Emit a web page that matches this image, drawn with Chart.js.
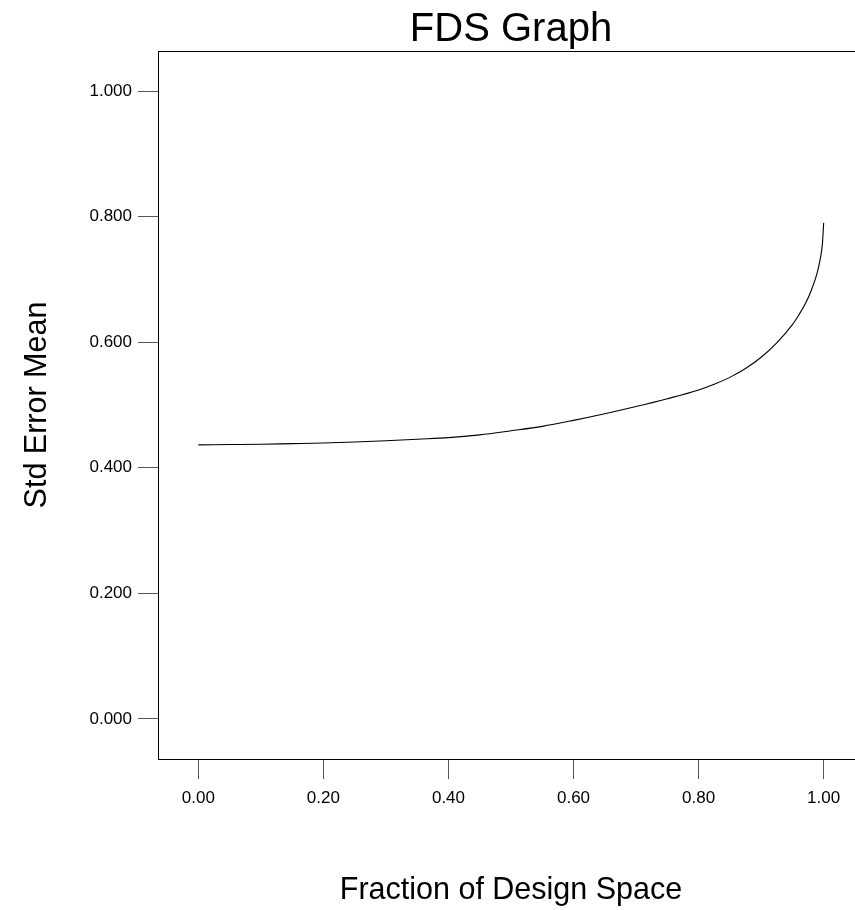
<!DOCTYPE html>
<html>
<head>
<meta charset="utf-8">
<script src="https://cdn.jsdelivr.net/npm/chart.js@4.4.1/dist/chart.umd.min.js"></script>
<style>
  html, body { margin: 0; padding: 0; background: #fff; overflow: hidden; }
  #wrap { position: relative; width: 865px; height: 910px; }
</style>
</head>
<body>
<div id="wrap"><canvas id="c"></canvas></div>
<script>
const chartTitle = 'FDS Graph';
const xAxisTitle = 'Fraction of Design Space';
const yAxisTitle = 'Std Error Mean';

const fractionValues = [0, 0.05, 0.10, 0.15, 0.20, 0.25, 0.30, 0.35, 0.40, 0.45, 0.50, 0.55, 0.60, 0.65, 0.70, 0.75, 0.80, 0.825, 0.85, 0.875, 0.90, 0.925, 0.95, 0.96, 0.97, 0.98, 0.99, 0.995, 0.998, 1.00];
const stdErrorMean   = [0.4365, 0.437, 0.4375, 0.4385, 0.4395, 0.441, 0.443, 0.4455, 0.448, 0.4525, 0.459, 0.466, 0.4755, 0.486, 0.4975, 0.510, 0.524, 0.533, 0.544, 0.558, 0.576, 0.599, 0.628, 0.643, 0.660, 0.682, 0.712, 0.735, 0.757, 0.790];

const xTicks = [0, 0.2, 0.4, 0.6, 0.8, 1.0];
const yTicks = [0, 0.2, 0.4, 0.6, 0.8, 1.0];

const FONT = '"Liberation Sans", Arial, Helvetica, sans-serif';

const points = fractionValues.map((x, i) => ({ x: x, y: stdErrorMean[i] }));

const framePlugin = {
  id: 'frame',
  afterDraw(chart) {
    const ctx = chart.ctx;
    const a = chart.chartArea;
    ctx.save();
    ctx.strokeStyle = '#000';
    ctx.lineWidth = 1;
    ctx.strokeRect(Math.round(a.left) + 0.5, Math.round(a.top) + 0.5, Math.round(a.right - a.left), Math.round(a.bottom - a.top));
    const cx = (a.left + a.right) / 2;
    const cy = (a.top + a.bottom) / 2;
    ctx.fillStyle = '#000';
    ctx.textAlign = 'center';
    ctx.textBaseline = 'alphabetic';
    ctx.font = '40px ' + FONT;
    ctx.fillText(chartTitle, cx, 41);
    ctx.font = '30.5px ' + FONT;
    ctx.fillText(xAxisTitle, cx, 899);
    ctx.save();
    ctx.translate(46, cy);
    ctx.rotate(-Math.PI / 2);
    ctx.fillText(yAxisTitle, 0, 0);
    ctx.restore();
    ctx.restore();
  }
};

new Chart(document.getElementById('c'), {
  type: 'line',
  data: {
    datasets: [{
      data: points,
      borderColor: '#000',
      borderWidth: 1.1,
      pointRadius: 0,
      fill: false,
      cubicInterpolationMode: 'monotone'
    }]
  },
  options: {
    responsive: true,
    maintainAspectRatio: false,
    animation: false,
    devicePixelRatio: 1,
    layout: { padding: { left: 0, top: 51, right: 1, bottom: 0 } },
    plugins: { legend: { display: false }, title: { display: false }, tooltip: { enabled: false } },
    scales: {
      x: {
        type: 'linear',
        min: -0.0645,
        max: 1.0645,
        afterBuildTicks(s) { s.ticks = xTicks.map(v => ({ value: v })); },
        afterFit(s) { s.height = 151; },
        grid: { drawOnChartArea: false, drawTicks: true, tickLength: 20, color: '#555', tickColor: '#555' },
        border: { display: true, color: '#000', width: 1 },
        ticks: { color: '#000', font: { family: FONT, size: 17 }, padding: 9, maxRotation: 0, autoSkip: false,
          callback: v => Number(v).toFixed(2) }
      },
      y: {
        type: 'linear',
        min: -0.0637,
        max: 1.0637,
        afterBuildTicks(s) { s.ticks = yTicks.map(v => ({ value: v })); },
        afterFit(s) { s.width = 158; },
        grid: { drawOnChartArea: false, drawTicks: true, tickLength: 20, color: '#555', tickColor: '#555' },
        border: { display: true, color: '#000', width: 1 },
        ticks: { color: '#000', font: { family: FONT, size: 17 }, padding: 6, autoSkip: false,
          callback: v => Number(v).toFixed(3) }
      }
    }
  },
  plugins: [framePlugin]
});
</script>
</body>
</html>
